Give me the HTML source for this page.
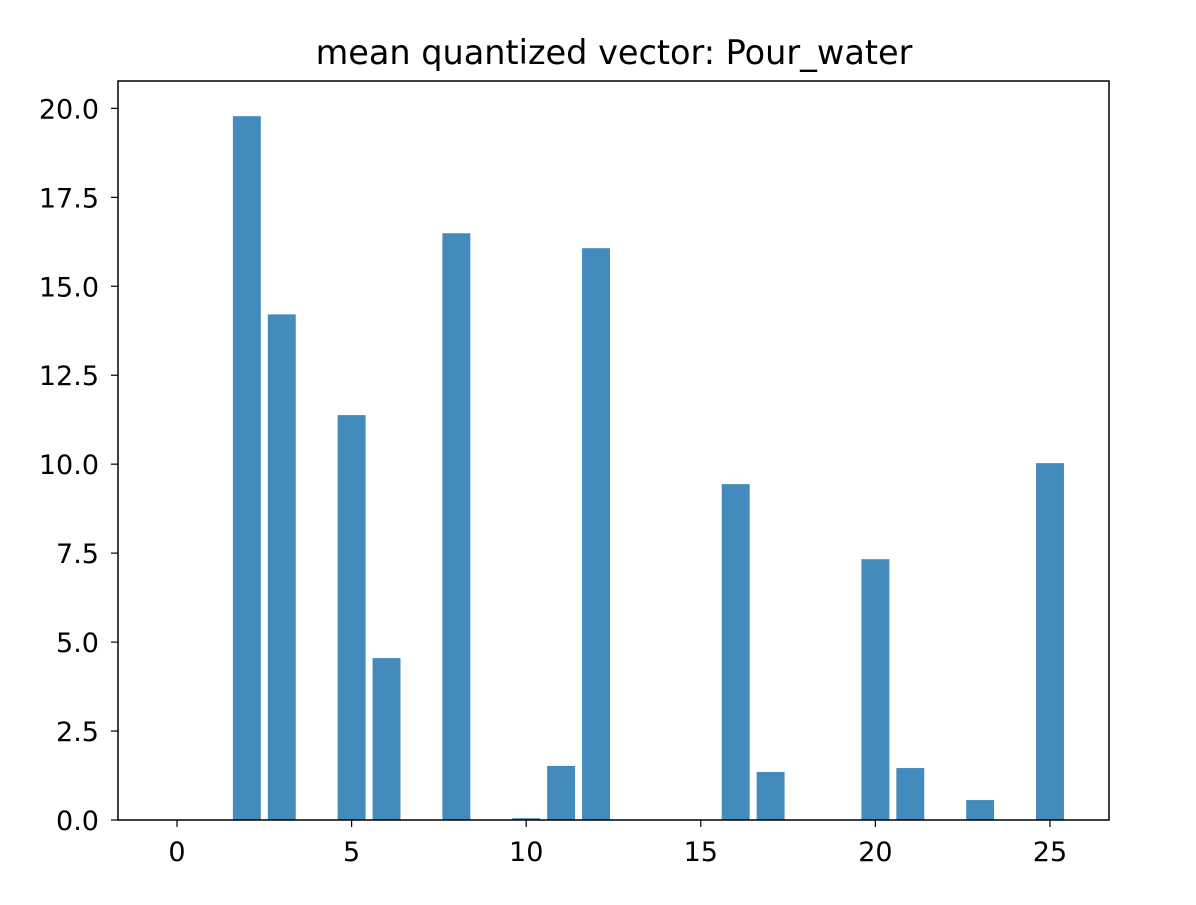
<!DOCTYPE html>
<html><head><meta charset="utf-8"><style>
html,body{margin:0;padding:0;background:#fff;}
svg text{font-family:"DejaVu Sans","Liberation Sans",sans-serif;fill:#000;}
</style></head><body>
<svg id="chart" width="1196" height="900" xmlns="http://www.w3.org/2000/svg">
<rect x="0" y="0" width="1196" height="900" fill="#fff"/>
<text x="614" y="64" font-size="33.5" text-anchor="middle">mean quantized vector: Pour_water</text>
<g id="bars"></g>
<g id="xticks"></g>
<g id="yticks"></g>
<rect x="118" y="81" width="991" height="739" fill="none" stroke="#000" stroke-width="1.5"/>
</svg>
<script>
const categories = [0,1,2,3,4,5,6,7,8,9,10,11,12,13,14,15,16,17,18,19,20,21,22,23,24,25];
const values = [0,0,19.78,14.21,0,11.38,4.55,0,16.49,0,0.05,1.52,16.07,0,0,0,9.44,1.35,0,0,7.33,1.46,0,0.56,0,10.03];
const xTickLabels = [0,5,10,15,20,25];
const yTickLabels = [0,2.5,5,7.5,10,12.5,15,17.5,20];

const L=118,R=1109,T=81,B=820;
const xmin=-1.69,xmax=26.69;
const ymax=Math.max(...values)*1.05;
const xs=v=>L+(v-xmin)/(xmax-xmin)*(R-L);
const ys=v=>B-v/ymax*(B-T);
const NS="http://www.w3.org/2000/svg";
const bars=document.getElementById('bars');
categories.forEach((c,i)=>{
  const r=document.createElementNS(NS,'rect');
  const x0=xs(c-0.4),x1=xs(c+0.4);
  r.setAttribute('x',x0);r.setAttribute('width',x1-x0);
  r.setAttribute('y',ys(values[i]));r.setAttribute('height',B-ys(values[i]));
  r.setAttribute('fill','#448bbd');
  
  
  bars.appendChild(r);
});
const xt=document.getElementById('xticks');
xTickLabels.forEach(v=>{
  const x=xs(v);
  const l=document.createElementNS(NS,'line');
  l.setAttribute('x1',x);l.setAttribute('x2',x);l.setAttribute('y1',B);l.setAttribute('y2',B+7);
  l.setAttribute('stroke','#000');l.setAttribute('stroke-width','1.2');
  
  
  xt.appendChild(l);
  const t=document.createElementNS(NS,'text');
  t.setAttribute('x',x);t.setAttribute('y',B+41);t.setAttribute('font-size','27');t.setAttribute('text-anchor','middle');
  t.textContent=v;
  
  
  xt.appendChild(t);
});
const yt=document.getElementById('yticks');
yTickLabels.forEach(v=>{
  const y=ys(v);
  const l=document.createElementNS(NS,'line');
  l.setAttribute('x1',L-7);l.setAttribute('x2',L);l.setAttribute('y1',y);l.setAttribute('y2',y);
  l.setAttribute('stroke','#000');l.setAttribute('stroke-width','1.2');
  
  
  yt.appendChild(l);
  const t=document.createElementNS(NS,'text');
  t.setAttribute('x',L-19);t.setAttribute('y',y+10);t.setAttribute('font-size','27');t.setAttribute('text-anchor','end');
  t.textContent=v.toFixed(1);
  
  
  yt.appendChild(t);
});
</script>
</body></html>
